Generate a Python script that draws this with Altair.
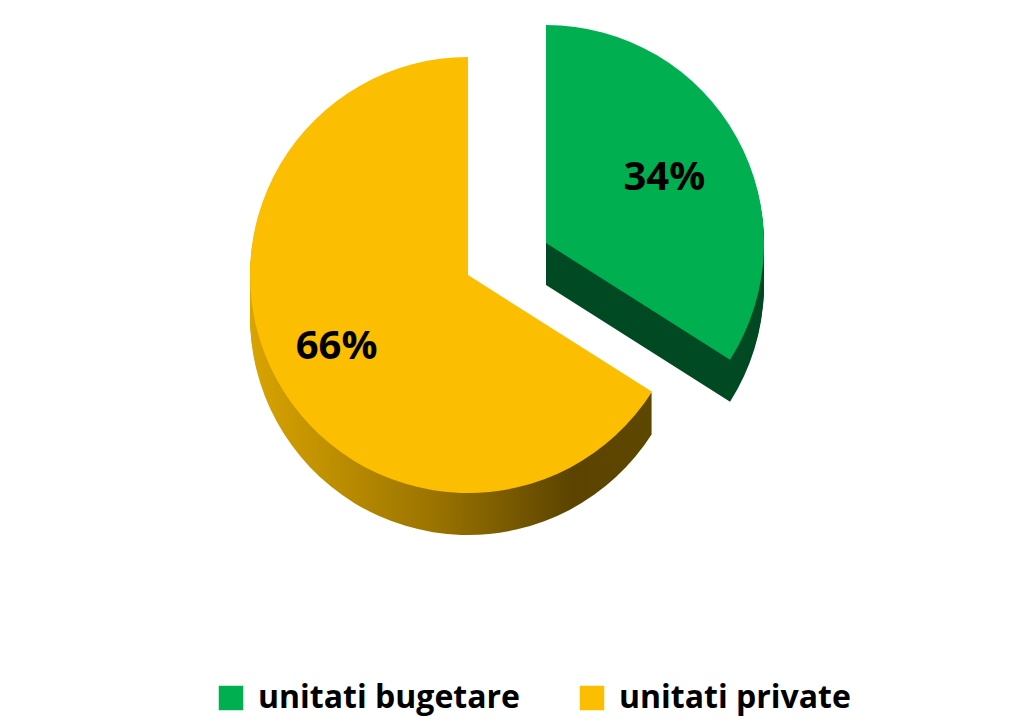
import math
import altair as alt
import pandas as pd

categories = ["unitati bugetare", "unitati private"]
values = [34, 66]
labels = ["34%", "66%"]

df = pd.DataFrame({"category": categories, "value": values, "label": labels})

TOP = "#00AF50"
YEL = "#FCBE00"
GREEN_SIDE = "#004A23"
R = 218
CX, CY = 455, 262
DEPTH = 42
DX, DY = 78, -32

base = alt.Chart(df).transform_window(
    cum="sum(value)", frame=[None, 0], sort=[{"field": "category"}]
).transform_calculate(
    start="datum.cum - datum.value", mid="datum.cum - datum.value/2"
)

theta_scale = alt.Scale(domain=[0, 100], range=[0, 2 * math.pi])

def arc_layer(cat, x, y, **mark):
    return base.transform_filter(alt.datum.category == cat).mark_arc(
        radius=R, **mark
    ).encode(
        theta=alt.Theta("start:Q", scale=theta_scale),
        theta2="cum:Q",
        x=alt.value(x),
        y=alt.value(y),
    )

yel_grad = alt.LinearGradient(
    gradient="linear",
    stops=[
        alt.GradientStop(color="#D9A400", offset=0),
        alt.GradientStop(color="#9C7500", offset=0.45),
        alt.GradientStop(color="#5C4400", offset=0.8),
        alt.GradientStop(color="#5E4700", offset=1),
    ],
    x1=0, x2=1, y1=0, y2=0,
)

layers = []
for k in range(DEPTH, 0, -2):
    layers.append(arc_layer("unitati private", CX, CY + k, color=yel_grad))
for k in range(DEPTH, 0, -2):
    layers.append(arc_layer("unitati bugetare", CX + DX, CY + DY + k, color=GREEN_SIDE))

color = alt.Color(
    "category:N",
    scale=alt.Scale(domain=categories, range=[TOP, YEL]),
    legend=alt.Legend(
        title=None, orient="none", legendX=202, legendY=669, direction="horizontal",
        labelFont="Open Sans", labelFontWeight="bold", labelFontSize=32,
        labelColor="#000000", symbolType="square", symbolSize=600,
        symbolStrokeWidth=0, columnPadding=56, labelLimit=400, labelOffset=11,
    ),
)

top_y = arc_layer("unitati private", CX, CY).encode(color=color)
top_g = arc_layer("unitati bugetare", CX + DX, CY + DY).encode(color=color)
layers += [top_y, top_g]

def text_layer(cat, x, y, r):
    return base.transform_filter(alt.datum.category == cat).mark_text(
        font="Open Sans", fontWeight="bold", fontSize=40, color="#000000", radius=r
    ).encode(
        theta=alt.Theta("mid:Q", scale=theta_scale),
        text="label:N",
        x=alt.value(x),
        y=alt.value(y),
    )

layers.append(text_layer("unitati bugetare", CX + DX, CY + DY, 135))
layers.append(text_layer("unitati private", CX, CY, 150))

chart = alt.layer(*layers).properties(
    width=998, height=709,
    autosize=alt.AutoSizeParams(type="fit", contains="padding"),
).configure_view(stroke=None)

chart.save("out.html", embed_options={"renderer": "svg", "actions": False})
